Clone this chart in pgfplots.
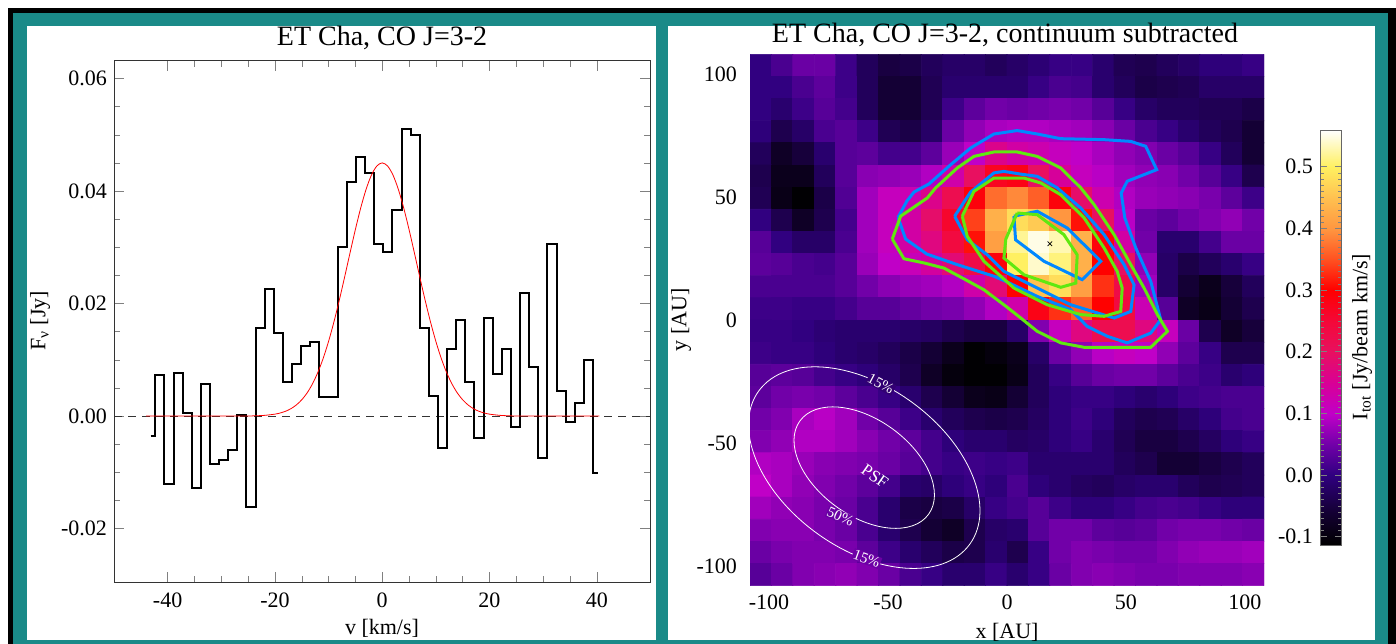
\documentclass[border=0pt]{standalone}
\usepackage{fontspec}
\setmainfont{Liberation Serif}
\usepackage{pgfplots}
\pgfplotsset{compat=1.18}

\definecolor{tealbg}{RGB}{26,138,136}
\definecolor{cblue}{RGB}{0,136,255}
\definecolor{cgreen}{RGB}{96,232,16}

\pgfplotsset{
  colormap={etcha}{rgb255(0pt)=(0,0,0) rgb255(53pt)=(20,0,52) rgb255(113pt)=(48,0,128)
    rgb255(163pt)=(112,0,168) rgb255(213pt)=(192,0,200) rgb255(263pt)=(216,0,150)
    rgb255(313pt)=(232,16,96) rgb255(363pt)=(244,8,56) rgb255(413pt)=(255,0,0)
    rgb255(463pt)=(255,80,32) rgb255(513pt)=(255,150,64) rgb255(563pt)=(255,192,80)
    rgb255(613pt)=(255,240,96) rgb255(673pt)=(255,255,255)},
  tick label style={font=\fontsize{11pt}{13pt}\selectfont},
  /pgf/number format/assume math mode=true,
}
\newcommand{\lab}{\fontsize{11pt}{13pt}\selectfont}
\newcommand{\ttl}{\fontsize{14pt}{16pt}\selectfont}

\begin{document}
\begin{tikzpicture}
\useasboundingbox (0,0) rectangle (698pt,-321.5pt);
\fill[white] (0,0) rectangle (698pt,-321.5pt);
\fill[black] (4pt,-4pt) rectangle (702pt,-330pt);
\fill[tealbg] (6.5pt,-6.5pt) rectangle (694pt,-330pt);
\fill[white] (13.5pt,-13pt) rectangle (328pt,-320pt);
\fill[white] (334pt,-13pt) rectangle (687.5pt,-320pt);

% ---------------- spectrum ----------------
\begin{axis}[
    at={(57pt,-291pt)}, anchor=south west,
    width=268.2pt, height=260.75pt, scale only axis,
    xmin=-50, xmax=50, ymin=-0.0295, ymax=0.0632,
    xtick={-40,-20,0,20,40}, minor x tick num=3,
    ytick={-0.02,0,0.02,0.04,0.06}, minor y tick num=3,
    scaled y ticks=false,
    yticklabel style={/pgf/number format/fixed, /pgf/number format/fixed zerofill,
      /pgf/number format/precision=2},
    xticklabel style={yshift=-2pt},
    major tick length=5pt, minor tick length=3pt,
    axis line style={black!80, thin},
]
\addplot[black!80, dash pattern=on 4pt off 3pt, thin] coordinates {(-50,0) (50,0)};
\addplot[const plot mark mid, black, line width=1pt] coordinates {
 (-43.15,-0.0035) (-41.45,0.0073) (-39.75,-0.0120) (-38.05,0.0076) (-36.35,0.0006)
 (-34.65,-0.0127) (-32.95,0.0057) (-31.25,-0.0085) (-29.55,-0.0079) (-27.85,-0.0060)
 (-26.15,0.0001) (-24.45,-0.0161) (-22.75,0.0156) (-21.05,0.0226) (-19.35,0.0148)
 (-17.65,0.0060) (-15.95,0.0092) (-14.25,0.0124) (-12.55,0.0132) (-10.85,0.0033)
 (-9.15,0.0033) (-7.45,0.0300) (-5.75,0.0416) (-4.05,0.0460) (-2.35,0.0432)
 (-0.65,0.0305) (1.05,0.0291) (2.75,0.0366) (4.45,0.0511) (6.15,0.0499)
 (7.85,0.0157) (9.55,0.0036) (11.25,-0.0057) (12.95,0.0119) (14.65,0.0171)
 (16.35,0.0060) (18.05,-0.0039) (19.75,0.0175) (21.45,0.0074) (23.15,0.0120)
 (24.85,-0.0020) (26.55,0.0219) (28.25,0.0087) (29.95,-0.0075) (31.65,0.0305)
 (33.35,0.0045) (35.05,-0.0011) (36.75,0.0023) (38.45,0.0100) (40.15,-0.0102)};
\addplot[red, thin, smooth] coordinates {
 (-44,0) (-26,0.00001) (-24,0.00004) (-22,0.00012) (-20,0.00034) (-19,0.00055)
 (-18,0.00086) (-17,0.00132) (-16,0.00198) (-15,0.00289) (-14,0.00411) (-13,0.00572)
 (-12,0.00776) (-11,0.01027) (-10,0.01328) (-9,0.01674) (-8,0.02060) (-7,0.02474)
 (-6,0.02900) (-5,0.03317) (-4,0.03702) (-3,0.04032) (-2,0.04286) (-1,0.04445)
 (0,0.04500) (1,0.04445) (2,0.04286) (3,0.04032) (4,0.03702) (5,0.03317)
 (6,0.02900) (7,0.02474) (8,0.02060) (9,0.01674) (10,0.01328) (11,0.01027)
 (12,0.00776) (13,0.00572) (14,0.00411) (15,0.00289) (16,0.00198) (17,0.00132)
 (18,0.00086) (19,0.00055) (20,0.00034) (22,0.00012) (24,0.00004) (26,0.00001) (40.5,0)};
\end{axis}
\node[font=\ttl] at (191pt,-19pt) {ET Cha, CO J=3-2};
\node[font=\lab, rotate=90] at (20pt,-160.5pt) {F\textsubscript{ν} [Jy]};
\node[font=\lab] at (191pt,-314pt) {v [km/s]};

% ---------------- map ----------------
\begin{axis}[
    at={(375pt,-292.85pt)}, anchor=south west,
    width=257pt, height=265.7pt, scale only axis,
    xmin=-108, xmax=108, ymin=-108, ymax=108,
    xtick={-100,-50,0,50,100}, ytick={-100,-50,0,50,100},
    major tick length=0pt, axis line style={draw=none},
    yticklabel style={xshift=-3pt}, xticklabel style={yshift=-1pt},
    colormap name=etcha, point meta min=-0.1135, point meta max=0.5595,
]
\addplot[matrix plot*, mesh/cols=24, point meta=explicit] table[row sep=\\, meta=c] {
x y c\\
-103.5 103.5 0.0\\ -94.5 103.5 0.02\\ -85.5 103.5 0.045\\ -76.5 103.5 0.045\\ -67.5 103.5 0.01\\ -58.5 103.5 -0.03\\ -49.5 103.5 -0.05\\ -40.5 103.5 -0.045\\ -31.5 103.5 -0.03\\ -22.5 103.5 -0.02\\ -13.5 103.5 -0.02\\ -4.5 103.5 -0.03\\ 4.5 103.5 -0.02\\ 13.5 103.5 -0.01\\ 22.5 103.5 0.005\\ 31.5 103.5 0.005\\ 40.5 103.5 -0.015\\ 49.5 103.5 -0.035\\ 58.5 103.5 -0.04\\ 67.5 103.5 -0.03\\ 76.5 103.5 -0.02\\ 85.5 103.5 -0.005\\ 94.5 103.5 -0.005\\ 103.5 103.5 0.005\\
-103.5 94.5 0.0\\ -94.5 94.5 0.0\\ -85.5 94.5 0.02\\ -76.5 94.5 0.035\\ -67.5 94.5 0.01\\ -58.5 94.5 -0.03\\ -49.5 94.5 -0.06\\ -40.5 94.5 -0.06\\ -31.5 94.5 -0.035\\ -22.5 94.5 -0.015\\ -13.5 94.5 -0.015\\ -4.5 94.5 -0.015\\ 4.5 94.5 -0.015\\ 13.5 94.5 0.005\\ 22.5 94.5 0.02\\ 31.5 94.5 0.015\\ 40.5 94.5 -0.015\\ 49.5 94.5 -0.03\\ 58.5 94.5 -0.045\\ 67.5 94.5 -0.04\\ 76.5 94.5 -0.035\\ 85.5 94.5 -0.02\\ 94.5 94.5 -0.02\\ 103.5 94.5 -0.02\\
-103.5 85.5 0.0\\ -94.5 85.5 -0.015\\ -85.5 85.5 0.01\\ -76.5 85.5 0.03\\ -67.5 85.5 0.015\\ -58.5 85.5 -0.03\\ -49.5 85.5 -0.06\\ -40.5 85.5 -0.06\\ -31.5 85.5 -0.035\\ -22.5 85.5 0.01\\ -13.5 85.5 0.035\\ -4.5 85.5 0.05\\ 4.5 85.5 0.045\\ 13.5 85.5 0.05\\ 22.5 85.5 0.055\\ 31.5 85.5 0.05\\ 40.5 85.5 0.03\\ 49.5 85.5 0.005\\ 58.5 85.5 -0.02\\ 67.5 85.5 -0.03\\ 76.5 85.5 -0.03\\ 85.5 85.5 -0.035\\ 94.5 85.5 -0.035\\ 103.5 85.5 -0.045\\
-103.5 76.5 -0.005\\ -94.5 76.5 -0.04\\ -85.5 76.5 -0.02\\ -76.5 76.5 0.02\\ -67.5 76.5 0.03\\ -58.5 76.5 0.01\\ -49.5 76.5 -0.035\\ -40.5 76.5 -0.045\\ -31.5 76.5 -0.02\\ -22.5 76.5 0.045\\ -13.5 76.5 0.07\\ -4.5 76.5 0.085\\ 4.5 76.5 0.09\\ 13.5 76.5 0.09\\ 22.5 76.5 0.085\\ 31.5 76.5 0.08\\ 40.5 76.5 0.065\\ 49.5 76.5 0.045\\ 58.5 76.5 0.02\\ 67.5 76.5 0.005\\ 76.5 76.5 -0.015\\ 85.5 76.5 -0.03\\ 94.5 76.5 -0.04\\ 103.5 76.5 -0.06\\
-103.5 67.5 -0.03\\ -94.5 67.5 -0.075\\ -85.5 67.5 -0.055\\ -76.5 67.5 -0.015\\ -67.5 67.5 0.03\\ -58.5 67.5 0.035\\ -49.5 67.5 0.015\\ -40.5 67.5 0.015\\ -31.5 67.5 0.035\\ -22.5 67.5 0.075\\ -13.5 67.5 0.1\\ -4.5 67.5 0.16\\ 4.5 67.5 0.135\\ 13.5 67.5 0.125\\ 22.5 67.5 0.11\\ 31.5 67.5 0.1\\ 40.5 67.5 0.085\\ 49.5 67.5 0.07\\ 58.5 67.5 0.06\\ 67.5 67.5 0.045\\ 76.5 67.5 0.03\\ 85.5 67.5 0.005\\ 94.5 67.5 -0.03\\ 103.5 67.5 -0.06\\
-103.5 58.5 -0.04\\ -94.5 58.5 -0.085\\ -85.5 58.5 -0.085\\ -76.5 58.5 -0.03\\ -67.5 58.5 0.03\\ -58.5 58.5 0.065\\ -49.5 58.5 0.07\\ -40.5 58.5 0.075\\ -31.5 58.5 0.09\\ -22.5 58.5 0.13\\ -13.5 58.5 0.2\\ -4.5 58.5 0.27\\ 4.5 58.5 0.28\\ 13.5 58.5 0.2\\ 22.5 58.5 0.145\\ 31.5 58.5 0.11\\ 40.5 58.5 0.095\\ 49.5 58.5 0.08\\ 58.5 58.5 0.07\\ 67.5 58.5 0.065\\ 76.5 58.5 0.05\\ 85.5 58.5 0.03\\ 94.5 58.5 0.005\\ 103.5 58.5 -0.04\\
-103.5 49.5 -0.035\\ -94.5 49.5 -0.09\\ -85.5 49.5 -0.11\\ -76.5 49.5 -0.045\\ -67.5 49.5 0.025\\ -58.5 49.5 0.08\\ -49.5 49.5 0.11\\ -40.5 49.5 0.12\\ -31.5 49.5 0.16\\ -22.5 49.5 0.22\\ -13.5 49.5 0.29\\ -4.5 49.5 0.37\\ 4.5 49.5 0.39\\ 13.5 49.5 0.36\\ 22.5 49.5 0.29\\ 31.5 49.5 0.19\\ 40.5 49.5 0.125\\ 49.5 49.5 0.09\\ 58.5 49.5 0.075\\ 67.5 49.5 0.07\\ 76.5 49.5 0.065\\ 85.5 49.5 0.055\\ 94.5 49.5 0.035\\ 103.5 49.5 0.01\\
-103.5 40.5 0.0\\ -94.5 40.5 -0.04\\ -85.5 40.5 -0.075\\ -76.5 40.5 -0.04\\ -67.5 40.5 0.015\\ -58.5 40.5 0.08\\ -49.5 40.5 0.11\\ -40.5 40.5 0.135\\ -31.5 40.5 0.19\\ -22.5 40.5 0.26\\ -13.5 40.5 0.34\\ -4.5 40.5 0.43\\ 4.5 40.5 0.48\\ 13.5 40.5 0.46\\ 22.5 40.5 0.4\\ 31.5 40.5 0.31\\ 40.5 40.5 0.2\\ 49.5 40.5 0.095\\ 58.5 40.5 0.045\\ 67.5 40.5 0.035\\ 76.5 40.5 0.05\\ 85.5 40.5 0.06\\ 94.5 40.5 0.07\\ 103.5 40.5 0.05\\
-103.5 31.5 0.03\\ -94.5 31.5 0.0\\ -85.5 31.5 -0.02\\ -76.5 31.5 -0.02\\ -67.5 31.5 0.02\\ -58.5 31.5 0.08\\ -49.5 31.5 0.11\\ -40.5 31.5 0.135\\ -31.5 31.5 0.17\\ -22.5 31.5 0.24\\ -13.5 31.5 0.31\\ -4.5 31.5 0.41\\ 4.5 31.5 0.52\\ 13.5 31.5 0.55\\ 22.5 31.5 0.53\\ 31.5 31.5 0.43\\ 40.5 31.5 0.29\\ 49.5 31.5 0.135\\ 58.5 31.5 0.05\\ 67.5 31.5 -0.015\\ 76.5 31.5 -0.015\\ 85.5 31.5 0.015\\ 94.5 31.5 0.045\\ 103.5 31.5 0.045\\
-103.5 22.5 0.035\\ -94.5 22.5 0.03\\ -85.5 22.5 0.02\\ -76.5 22.5 0.015\\ -67.5 22.5 0.03\\ -58.5 22.5 0.075\\ -49.5 22.5 0.1\\ -40.5 22.5 0.115\\ -31.5 22.5 0.14\\ -22.5 22.5 0.18\\ -13.5 22.5 0.23\\ -4.5 22.5 0.29\\ 4.5 22.5 0.5\\ 13.5 22.5 0.54\\ 22.5 22.5 0.51\\ 31.5 22.5 0.43\\ 40.5 22.5 0.3\\ 49.5 22.5 0.2\\ 58.5 22.5 0.07\\ 67.5 22.5 -0.02\\ 76.5 22.5 -0.045\\ 85.5 22.5 -0.03\\ 94.5 22.5 -0.015\\ 103.5 22.5 0.005\\
-103.5 13.5 0.02\\ -94.5 13.5 0.02\\ -85.5 13.5 0.02\\ -76.5 13.5 0.02\\ -67.5 13.5 0.03\\ -58.5 13.5 0.05\\ -49.5 13.5 0.065\\ -40.5 13.5 0.075\\ -31.5 13.5 0.08\\ -22.5 13.5 0.09\\ -13.5 13.5 0.13\\ -4.5 13.5 0.18\\ 4.5 13.5 0.3\\ 13.5 13.5 0.45\\ 22.5 13.5 0.48\\ 31.5 13.5 0.41\\ 40.5 13.5 0.33\\ 49.5 13.5 0.23\\ 58.5 13.5 0.08\\ 67.5 13.5 -0.02\\ 76.5 13.5 -0.06\\ 85.5 13.5 -0.085\\ 94.5 13.5 -0.055\\ 103.5 13.5 -0.03\\
-103.5 4.5 0.01\\ -94.5 4.5 0.01\\ -85.5 4.5 0.005\\ -76.5 4.5 0.005\\ -67.5 4.5 0.015\\ -58.5 4.5 0.03\\ -49.5 4.5 0.03\\ -40.5 4.5 0.04\\ -31.5 4.5 0.05\\ -22.5 4.5 0.055\\ -13.5 4.5 0.07\\ -4.5 4.5 0.09\\ 4.5 4.5 0.13\\ 13.5 4.5 0.28\\ 22.5 4.5 0.33\\ 31.5 4.5 0.36\\ 40.5 4.5 0.3\\ 49.5 4.5 0.24\\ 58.5 4.5 0.12\\ 67.5 4.5 0.03\\ 76.5 4.5 -0.075\\ 85.5 4.5 -0.09\\ 94.5 4.5 -0.06\\ 103.5 4.5 -0.04\\
-103.5 -4.5 0.005\\ -94.5 -4.5 0.005\\ -85.5 -4.5 0.0\\ -76.5 -4.5 -0.01\\ -67.5 -4.5 -0.015\\ -58.5 -4.5 -0.015\\ -49.5 -4.5 -0.015\\ -40.5 -4.5 -0.02\\ -31.5 -4.5 -0.025\\ -22.5 -4.5 -0.04\\ -13.5 -4.5 -0.05\\ -4.5 -4.5 -0.05\\ 4.5 -4.5 -0.02\\ 13.5 -4.5 0.06\\ 22.5 -4.5 0.11\\ 31.5 -4.5 0.17\\ 40.5 -4.5 0.22\\ 49.5 -4.5 0.22\\ 58.5 -4.5 0.17\\ 67.5 -4.5 0.11\\ 76.5 -4.5 0.045\\ 85.5 -4.5 -0.04\\ 94.5 -4.5 -0.075\\ 103.5 -4.5 -0.055\\
-103.5 -13.5 0.01\\ -94.5 -13.5 0.005\\ -85.5 -13.5 0.005\\ -76.5 -13.5 -0.005\\ -67.5 -13.5 -0.015\\ -58.5 -13.5 -0.02\\ -49.5 -13.5 -0.03\\ -40.5 -13.5 -0.045\\ -31.5 -13.5 -0.06\\ -22.5 -13.5 -0.085\\ -13.5 -13.5 -0.11\\ -4.5 -13.5 -0.1\\ 4.5 -13.5 -0.085\\ 13.5 -13.5 -0.02\\ 22.5 -13.5 0.045\\ 31.5 -13.5 0.07\\ 40.5 -13.5 0.095\\ 49.5 -13.5 0.11\\ 58.5 -13.5 0.1\\ 67.5 -13.5 0.07\\ 76.5 -13.5 0.035\\ 85.5 -13.5 0.005\\ 94.5 -13.5 -0.04\\ 103.5 -13.5 -0.04\\
-103.5 -22.5 0.03\\ -94.5 -22.5 0.035\\ -85.5 -22.5 0.03\\ -76.5 -22.5 0.015\\ -67.5 -22.5 0.005\\ -58.5 -22.5 -0.005\\ -49.5 -22.5 -0.02\\ -40.5 -22.5 -0.04\\ -31.5 -22.5 -0.075\\ -22.5 -22.5 -0.1\\ -13.5 -22.5 -0.11\\ -4.5 -22.5 -0.11\\ 4.5 -22.5 -0.09\\ 13.5 -22.5 -0.03\\ 22.5 -22.5 0.005\\ 31.5 -22.5 0.03\\ 40.5 -22.5 0.045\\ 49.5 -22.5 0.05\\ 58.5 -22.5 0.05\\ 67.5 -22.5 0.035\\ 76.5 -22.5 0.02\\ 85.5 -22.5 0.01\\ 94.5 -22.5 -0.015\\ 103.5 -22.5 -0.005\\
-103.5 -31.5 0.035\\ -94.5 -31.5 0.05\\ -85.5 -31.5 0.055\\ -76.5 -31.5 0.05\\ -67.5 -31.5 0.035\\ -58.5 -31.5 0.02\\ -49.5 -31.5 0.005\\ -40.5 -31.5 -0.015\\ -31.5 -31.5 -0.04\\ -22.5 -31.5 -0.06\\ -13.5 -31.5 -0.085\\ -4.5 -31.5 -0.09\\ 4.5 -31.5 -0.06\\ 13.5 -31.5 -0.03\\ 22.5 -31.5 -0.005\\ 31.5 -31.5 0.005\\ 40.5 -31.5 0.005\\ 49.5 -31.5 -0.005\\ 58.5 -31.5 -0.015\\ 67.5 -31.5 -0.005\\ 76.5 -31.5 0.01\\ 85.5 -31.5 0.015\\ 94.5 -31.5 0.02\\ 103.5 -31.5 0.02\\
-103.5 -40.5 0.05\\ -94.5 -40.5 0.06\\ -85.5 -40.5 0.085\\ -76.5 -40.5 0.095\\ -67.5 -40.5 0.08\\ -58.5 -40.5 0.05\\ -49.5 -40.5 0.03\\ -40.5 -40.5 0.01\\ -31.5 -40.5 -0.015\\ -22.5 -40.5 -0.03\\ -13.5 -40.5 -0.04\\ -4.5 -40.5 -0.045\\ 4.5 -40.5 -0.04\\ 13.5 -40.5 -0.025\\ 22.5 -40.5 -0.005\\ 31.5 -40.5 0.01\\ 40.5 -40.5 -0.005\\ 49.5 -40.5 -0.03\\ 58.5 -40.5 -0.04\\ 67.5 -40.5 -0.035\\ 76.5 -40.5 -0.02\\ 85.5 -40.5 -0.005\\ 94.5 -40.5 0.015\\ 103.5 -40.5 0.02\\
-103.5 -49.5 0.06\\ -94.5 -49.5 0.07\\ -85.5 -49.5 0.09\\ -76.5 -49.5 0.09\\ -67.5 -49.5 0.08\\ -58.5 -49.5 0.065\\ -49.5 -49.5 0.05\\ -40.5 -49.5 0.035\\ -31.5 -49.5 0.015\\ -22.5 -49.5 -0.005\\ -13.5 -49.5 -0.015\\ -4.5 -49.5 -0.015\\ 4.5 -49.5 -0.025\\ 13.5 -49.5 -0.02\\ 22.5 -49.5 -0.005\\ 31.5 -49.5 0.005\\ 40.5 -49.5 -0.015\\ 49.5 -49.5 -0.035\\ 58.5 -49.5 -0.05\\ 67.5 -49.5 -0.05\\ 76.5 -49.5 -0.04\\ 85.5 -49.5 -0.025\\ 94.5 -49.5 -0.005\\ 103.5 -49.5 0.005\\
-103.5 -58.5 0.09\\ -94.5 -58.5 0.085\\ -85.5 -58.5 0.075\\ -76.5 -58.5 0.065\\ -67.5 -58.5 0.06\\ -58.5 -58.5 0.055\\ -49.5 -58.5 0.045\\ -40.5 -58.5 0.03\\ -31.5 -58.5 0.015\\ -22.5 -58.5 0.005\\ -13.5 -58.5 0.01\\ -4.5 -58.5 0.005\\ 4.5 -58.5 0.01\\ 13.5 -58.5 -0.015\\ 22.5 -58.5 -0.015\\ 31.5 -58.5 -0.015\\ 40.5 -58.5 -0.015\\ 49.5 -58.5 -0.03\\ 58.5 -58.5 -0.04\\ 67.5 -58.5 -0.06\\ 76.5 -58.5 -0.06\\ 85.5 -58.5 -0.05\\ 94.5 -58.5 -0.04\\ 103.5 -58.5 -0.03\\
-103.5 -67.5 0.1\\ -94.5 -67.5 0.085\\ -85.5 -67.5 0.07\\ -76.5 -67.5 0.06\\ -67.5 -67.5 0.05\\ -58.5 -67.5 0.035\\ -49.5 -67.5 0.015\\ -40.5 -67.5 -0.015\\ -31.5 -67.5 -0.02\\ -22.5 -67.5 -0.005\\ -13.5 -67.5 0.005\\ -4.5 -67.5 -0.005\\ 4.5 -67.5 0.02\\ 13.5 -67.5 -0.005\\ 22.5 -67.5 -0.015\\ 31.5 -67.5 -0.025\\ 40.5 -67.5 -0.03\\ 49.5 -67.5 -0.02\\ 58.5 -67.5 -0.015\\ 67.5 -67.5 -0.015\\ 76.5 -67.5 -0.03\\ 85.5 -67.5 -0.04\\ 94.5 -67.5 -0.035\\ 103.5 -67.5 -0.03\\
-103.5 -76.5 0.08\\ -94.5 -76.5 0.07\\ -85.5 -76.5 0.065\\ -76.5 -76.5 0.055\\ -67.5 -76.5 0.045\\ -58.5 -76.5 0.02\\ -49.5 -76.5 -0.015\\ -40.5 -76.5 -0.045\\ -31.5 -76.5 -0.05\\ -22.5 -76.5 -0.045\\ -13.5 -76.5 -0.02\\ -4.5 -76.5 0.005\\ 4.5 -76.5 0.015\\ 13.5 -76.5 0.03\\ 22.5 -76.5 0.01\\ 31.5 -76.5 -0.005\\ 40.5 -76.5 -0.005\\ 49.5 -76.5 0.005\\ 58.5 -76.5 0.015\\ 67.5 -76.5 0.02\\ 76.5 -76.5 0.015\\ 85.5 -76.5 0.005\\ 94.5 -76.5 -0.005\\ 103.5 -76.5 -0.005\\
-103.5 -85.5 0.06\\ -94.5 -85.5 0.065\\ -85.5 -85.5 0.065\\ -76.5 -85.5 0.055\\ -67.5 -85.5 0.045\\ -58.5 -85.5 0.02\\ -49.5 -85.5 -0.015\\ -40.5 -85.5 -0.04\\ -31.5 -85.5 -0.06\\ -22.5 -85.5 -0.075\\ -13.5 -85.5 -0.04\\ -4.5 -85.5 -0.02\\ 4.5 -85.5 -0.015\\ 13.5 -85.5 0.03\\ 22.5 -85.5 0.05\\ 31.5 -85.5 0.05\\ 40.5 -85.5 0.035\\ 49.5 -85.5 0.03\\ 58.5 -85.5 0.035\\ 67.5 -85.5 0.05\\ 76.5 -85.5 0.055\\ 85.5 -85.5 0.055\\ 94.5 -85.5 0.05\\ 103.5 -85.5 0.045\\
-103.5 -94.5 0.045\\ -94.5 -94.5 0.055\\ -85.5 -94.5 0.06\\ -76.5 -94.5 0.06\\ -67.5 -94.5 0.055\\ -58.5 -94.5 0.035\\ -49.5 -94.5 0.01\\ -40.5 -94.5 -0.015\\ -31.5 -94.5 -0.03\\ -22.5 -94.5 -0.045\\ -13.5 -94.5 -0.04\\ -4.5 -94.5 -0.015\\ 4.5 -94.5 -0.04\\ 13.5 -94.5 0.005\\ 22.5 -94.5 0.05\\ 31.5 -94.5 0.06\\ 40.5 -94.5 0.055\\ 49.5 -94.5 0.05\\ 58.5 -94.5 0.05\\ 67.5 -94.5 0.06\\ 76.5 -94.5 0.07\\ 85.5 -94.5 0.075\\ 94.5 -94.5 0.075\\ 103.5 -94.5 0.08\\
-103.5 -103.5 0.03\\ -94.5 -103.5 0.045\\ -85.5 -103.5 0.06\\ -76.5 -103.5 0.065\\ -67.5 -103.5 0.07\\ -58.5 -103.5 0.06\\ -49.5 -103.5 0.045\\ -40.5 -103.5 0.02\\ -31.5 -103.5 0.005\\ -22.5 -103.5 -0.015\\ -13.5 -103.5 -0.015\\ -4.5 -103.5 0.005\\ 4.5 -103.5 -0.015\\ 13.5 -103.5 0.005\\ 22.5 -103.5 0.045\\ 31.5 -103.5 0.06\\ 40.5 -103.5 0.065\\ 49.5 -103.5 0.06\\ 58.5 -103.5 0.055\\ 67.5 -103.5 0.055\\ 76.5 -103.5 0.06\\ 85.5 -103.5 0.06\\ 94.5 -103.5 0.06\\ 103.5 -103.5 0.065\\
};
% contours
\addplot[cblue, line width=1.5pt] coordinates {(-45.8,41.7) (-42.1,48.3) (-39.1,52.0) (-32.8,55.3) (-23.7,63.1) (-15.3,69.9) (-5.5,75.6) (4.3,77.0) (12.7,75.6) (22.6,73.7) (40.8,73.3) (52.0,72.6) (58.3,70.6) (62.9,61.1) (50.5,56.4) (48.0,51.6) (49.5,41.5) (54.1,29.3) (60.4,15.7) (64.6,0.1) (60.4,-5.3) (50.5,-9.3) (42.1,-6.6) (33.7,-2.6) (26.8,4.2) (12.7,9.6) (-0.5,15.7) (-5.5,17.8) (-20.9,22.5) (-33.7,26.8) (-42.6,32.9) (-45.8,41.7)};
\addplot[cgreen, line width=1.5pt] coordinates {(-48.2,32.9) (-44.7,42.2) (-33.5,49.6) (-30.0,53.7) (-20.9,61.8) (-13.9,66.5) (-5.5,68.3) (4.3,68.3) (12.7,66.5) (22.6,61.8) (31.0,53.7) (36.6,46.9) (45.0,34.7) (52.0,22.5) (57.6,13.0) (63.2,2.2) (67.4,-4.6) (60.4,-11.1) (32.4,-11.1) (22.6,-9.3) (12.7,-4.6) (5.8,0.8) (-0.5,5.6) (-9.7,12.3) (-18.8,17.1) (-26.5,21.1) (-34.9,23.2) (-43.3,24.9) (-48.2,32.9)};
\addplot[cblue, line width=1.5pt] coordinates {(-22.0,42.2) (-15.3,52.0) (-5.5,59.8) (-1.3,60.4) (5.8,59.3) (12.7,58.4) (21.1,53.7) (31.0,45.5) (40.8,34.7) (49.2,22.5) (53.4,14.3) (52.0,3.5) (45.0,0.8) (26.8,6.2) (12.7,13.0) (-1.3,19.8) (-8.3,26.5) (-16.7,32.6) (-22.0,42.2)};
\addplot[cgreen, line width=1.5pt] coordinates {(-18.8,42.2) (-13.9,52.3) (-5.5,57.7) (7.1,57.7) (14.2,55.7) (22.6,50.9) (32.4,41.5) (40.8,29.3) (46.3,19.8) (48.4,13.0) (47.8,3.5) (40.8,1.5) (31.0,2.2) (16.9,6.2) (2.9,13.0) (-9.7,23.9) (-16.7,34.0) (-18.8,42.2)};
\addplot[cblue, line width=1.5pt] coordinates {(2.9,42.2) (12.7,44.2) (25.3,37.4) (32.4,30.6) (39.4,23.9) (31.6,16.4) (15.5,23.9) (3.6,32.6) (2.9,42.2)};
\addplot[cgreen, line width=1.5pt] coordinates {(4.3,43.5) (12.7,42.8) (23.9,34.7) (29.5,26.5) (28.9,15.0) (22.6,13.3) (7.1,18.4) (-1.3,25.2) (-0.5,32.9) (4.3,43.5)};
\addplot[only marks, mark=x, mark size=1.6pt, black, thin] coordinates {(18,31)};
% PSF
\draw[white, thin, rotate around={-36:(axis cs:-60,-60)}] (axis cs:-60,-60) ellipse [x radius=54.8, y radius=32.9];
\draw[white, thin, rotate around={-36:(axis cs:-60,-60)}] (axis cs:-60,-60) ellipse [x radius=33.4, y radius=19.5];
\node[white, font=\fontsize{7.5pt}{8pt}\selectfont, rotate=-28, fill={rgb,255:red,50;green,0;blue,115}, inner sep=0.4pt] at (axis cs:-53,-26) {15\%};
\node[white, font=\fontsize{7.5pt}{8pt}\selectfont, rotate=-24, fill={rgb,255:red,106;green,0;blue,164}, inner sep=0.4pt] at (axis cs:-70,-80) {50\%};
\node[white, font=\fontsize{7.5pt}{8pt}\selectfont, rotate=-20, fill={rgb,255:red,110;green,0;blue,166}, inner sep=0.4pt] at (axis cs:-59,-97) {15\%};
\node[white, font=\fontsize{8.5pt}{9pt}\selectfont, rotate=-35, inner sep=0pt] at (axis cs:-55.5,-63.5) {PSF};
\end{axis}

% ---------------- colour bar ----------------
\begin{axis}[
    at={(660pt,-272.5pt)}, anchor=south west,
    width=10.85pt, height=207.5pt, scale only axis,
    xmin=0, xmax=1, ymin=-0.1135, ymax=0.5595,
    xtick=\empty,
    ytick={-0.1,0,0.1,0.2,0.3,0.4,0.5}, minor y tick num=9,
    ytick pos=both, yticklabel pos=left,
    scaled y ticks=false,
    yticklabel style={/pgf/number format/fixed, /pgf/number format/fixed zerofill,
      /pgf/number format/precision=1},
    major tick length=3.5pt, minor tick length=1.8pt,
    axis line style={black!60, thin}, axis on top,
    colormap name=etcha, point meta min=-0.1135, point meta max=0.5595,
]
\addplot[patch, patch type=rectangle, shader=interp, point meta=y] coordinates {
 (0,-0.1135) (1,-0.1135) (1,-0.0605) (0,-0.0605)
 (0,-0.0605) (1,-0.0605) (1,-0.0005) (0,-0.0005)
 (0,-0.0005) (1,-0.0005) (1,0.0495) (0,0.0495)
 (0,0.0495) (1,0.0495) (1,0.0995) (0,0.0995)
 (0,0.0995) (1,0.0995) (1,0.1495) (0,0.1495)
 (0,0.1495) (1,0.1495) (1,0.1995) (0,0.1995)
 (0,0.1995) (1,0.1995) (1,0.2495) (0,0.2495)
 (0,0.2495) (1,0.2495) (1,0.2995) (0,0.2995)
 (0,0.2995) (1,0.2995) (1,0.3495) (0,0.3495)
 (0,0.3495) (1,0.3495) (1,0.3995) (0,0.3995)
 (0,0.3995) (1,0.3995) (1,0.4495) (0,0.4495)
 (0,0.4495) (1,0.4495) (1,0.4995) (0,0.4995)
 (0,0.4995) (1,0.4995) (1,0.5595) (0,0.5595)};
\end{axis}

\node[font=\ttl] at (502.5pt,-17.5pt) {ET Cha, CO J=3-2, continuum subtracted};
\node[font=\lab, rotate=90] at (340.5pt,-160pt) {y [AU]};
\node[font=\lab] at (503.5pt,-316pt) {x [AU]};
\node[font=\lab, rotate=90] at (681pt,-168.5pt) {I\textsubscript{tot} [Jy/beam km/s]};
\end{tikzpicture}
\end{document}
